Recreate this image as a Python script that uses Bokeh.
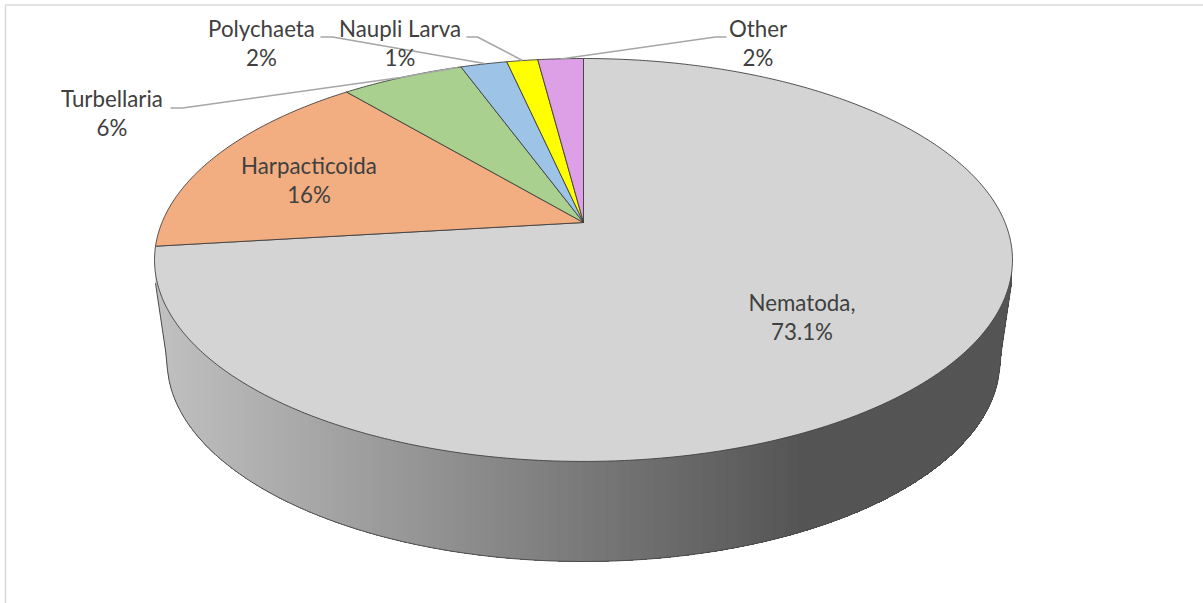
import numpy as np
from bokeh.core.properties import value
from bokeh.embed import file_html
from bokeh.models import ColumnDataSource
from bokeh.plotting import figure
from bokeh.resources import INLINE

# Share of each taxon, percent, clockwise from twelve o'clock
taxa = ["Nematoda,", "Harpacticoida", "Turbellaria", "Polychaeta", "Naupli Larva", "Other"]
shares = [73.1, 15.8, 5.55, 2.1, 1.4, 2.05]
decimals = [1, 0, 0, 0, 0, 0]
slice_colors = ["#d4d4d4", "#f2ae80", "#a9d08e", "#9dc3e6", "#ffff00", "#dda0e6"]

# Where each label block is centred, page pixels
label_x = [801.5, 308.5, 111.5, 261, 399.5, 757.5]
label_y = [301.5, 164.5, 97.5, 27.5, 27.5, 27.5]
line_gap = 29

# Leader lines (Turbellaria, Polychaeta, Naupli Larva, Other)
leaders_x = [[170, 182, 400, 457], [320, 332, 484], [466, 477, 522], [726, 715, 560]]
leaders_y = [[107.5, 107.5, 77, 67], [36.5, 36.5, 63], [36.5, 36.5, 60], [36.5, 36.5, 58.5]]

# Perspective of the disc: apex, half-width and depth terms of the top face
APEX_X, APEX_Y = 583.0, 222.0
TILT = 0.186
HALF_W, HALF_H = 421.5, 194.5

# Outlines used for the cylinder wall
TOP_CY, TOP_RX, TOP_RY = 259.5, 429.0, 201.5
BASE_CY, BASE_RX, BASE_RY = 360.0, 416.5, 201.0
WALL_EDGE_Y = 276.0


def rim(fraction):
    """Project a point on the disc's rim, fraction of a turn clockwise from the top."""
    a = 2 * np.pi * np.asarray(fraction)
    u, v = np.sin(a), np.cos(a)
    d = 1 + TILT * v
    return APEX_X + HALF_W * u / d, APEX_Y - HALF_H * v / d


def wall_top(x):
    return TOP_CY + TOP_RY * np.sqrt(np.clip(1 - ((x - APEX_X) / TOP_RX) ** 2, 0, 1))


def wall_bottom(x):
    inner = BASE_CY + BASE_RY * np.sqrt(np.clip(1 - ((x - APEX_X) / BASE_RX) ** 2, 0, 1))
    # Straight flanks join the two outlines beyond the base ellipse
    dist = np.abs(x - APEX_X)
    flank = BASE_CY + (WALL_EDGE_Y - BASE_CY) * (dist - BASE_RX) / (TOP_RX - BASE_RX)
    return np.where(dist > BASE_RX, flank, inner)


def wall_grey(x):
    level = np.clip(192 - 107 * (x - 160) / 640, 85, 192)
    c = int(round(level))
    return f"#{c:02x}{c:02x}{c:02x}"


p = figure(
    width=1203, height=603, x_range=(0, 1203), y_range=(603, 0),
    output_backend="svg", toolbar_location=None, min_border=0,
    background_fill_color="white", border_fill_color="white", outline_line_color=None,
)
p.axis.visible = False
p.grid.visible = False

# Chart frame, open on the right
p.line([1203, 5, 5], [4.5, 4.5, 603], line_color="#d9d9d9", line_width=1.5)

# Side wall: narrow vertical strips give the light-to-dark sweep. Each strip is a
# smooth run along the outer edge and overlaps its right neighbour, so no seams show.
edges = np.arange(APEX_X - TOP_RX + 1, APEX_X + TOP_RX - 1, 2.0)
edges = np.append(edges, APEX_X + TOP_RX - 1)
for i in range(len(edges) - 1):
    span = np.linspace(edges[i], edges[-1], 2 + (len(edges) - 2 - i))
    top = wall_top(span) - 2
    bottom = wall_bottom(span)
    p.patch(
        np.concatenate([span, span[::-1]]), np.concatenate([top, bottom[::-1]]),
        fill_color=wall_grey(edges[i] + 1), line_color=None,
    )

edge_x = np.linspace(APEX_X - TOP_RX + 1, APEX_X + TOP_RX - 1, 500)
p.line(edge_x, wall_bottom(edge_x), line_color="#4a4a4a", line_width=1)

# Top face slices, all computed from the shares
cum = np.concatenate([[0], np.cumsum(shares)]) / 100.0
slice_xs, slice_ys = [], []
for start, stop in zip(cum[:-1], cum[1:]):
    steps = np.linspace(start, stop, max(4, int((stop - start) * 720)))
    rx, ry = rim(steps)
    slice_xs.append([APEX_X, *rx.tolist()])
    slice_ys.append([APEX_Y, *ry.tolist()])
p.patches(
    slice_xs, slice_ys, fill_color=slice_colors,
    line_color="#404040", line_width=0.9, line_join="round",
)

# Leader lines
p.multi_line(leaders_x, leaders_y, line_color="#a6a6a6", line_width=1.6)

# Two-line labels: name above percentage
pct = [f"{s:.{d}f}%" for s, d in zip(shares, decimals)]
text_x = label_x + label_x
text_y = label_y + [y + line_gap for y in label_y]
labels = ColumnDataSource(dict(x=text_x, y=text_y, t=taxa + pct))
p.text(
    "x", "y", text="t", source=labels, text_align="center", text_baseline="middle",
    text_font=value("Lato"), text_font_size="22.3px", text_color="#404040",
)

open("out.html", "w").write(file_html(p, INLINE))
